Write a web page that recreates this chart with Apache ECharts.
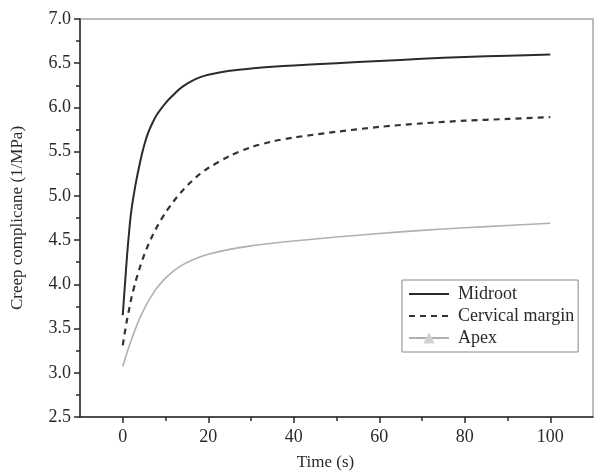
<!DOCTYPE html>
<html>
<head>
<meta charset="utf-8">
<script src="https://cdn.jsdelivr.net/npm/echarts@6/dist/echarts.min.js"></script>
<style>
  html, body { margin: 0; padding: 0; background: #fff; }
  #chart { width: 595px; height: 474px; }
</style>
</head>
<body>
<div id="chart"></div>
<script>
// Creep compliance curves (1/MPa) against time (s) for three root regions
const timeSeconds   = [0, 0.5, 1, 1.5, 2, 3, 4, 5, 6, 7, 8, 10, 12, 14, 16, 18, 20, 25, 30, 35, 40, 50, 60, 70, 80, 90, 100];
const valueMidroot  = [3.65, 3.99, 4.32, 4.60, 4.83, 5.13, 5.37, 5.57, 5.72, 5.83, 5.92, 6.05, 6.15, 6.235, 6.295, 6.34, 6.37, 6.415, 6.44, 6.46, 6.475, 6.50, 6.525, 6.55, 6.57, 6.585, 6.60];
const valueCervical = [3.31, 3.46, 3.60, 3.72, 3.84, 4.03, 4.19, 4.33, 4.45, 4.555, 4.65, 4.81, 4.945, 5.06, 5.16, 5.245, 5.315, 5.45, 5.55, 5.615, 5.66, 5.725, 5.78, 5.82, 5.85, 5.87, 5.89];
const valueApex     = [3.07, 3.15, 3.23, 3.30, 3.37, 3.50, 3.62, 3.72, 3.81, 3.89, 3.96, 4.07, 4.155, 4.22, 4.27, 4.31, 4.34, 4.395, 4.435, 4.465, 4.49, 4.535, 4.575, 4.61, 4.64, 4.665, 4.69];

const xMajorTicks = [0, 20, 40, 60, 80, 100];
const xMinorTicks = [10, 30, 50, 70, 90];

const pairs = (xs, ys) => xs.map((x, i) => [x, ys[i]]);

const FONT = 'Liberation Serif';
const INK = '#2a2a2a';

const chart = echarts.init(document.getElementById('chart'), null, { renderer: 'canvas' });

chart.setOption({
  animation: false,
  backgroundColor: '#ffffff',
  textStyle: { fontFamily: FONT, color: INK },
  grid: {
    left: 80, top: 19, right: 2, bottom: 57,
    outerBoundsMode: 'none',
    containLabel: false,
    show: true, borderColor: '#a8a8a8', borderWidth: 1.5, backgroundColor: 'transparent'
  },
  legend: {
    orient: 'vertical',
    left: 402, top: 280,
    padding: [5, 4, 5, 6],
    itemGap: 4,
    itemWidth: 40,
    itemHeight: 14,
    borderColor: '#888',
    borderWidth: 1,
    textStyle: { fontFamily: FONT, fontSize: 18, color: INK, padding: [0, 0, 0, 4] },
    data: [
      { name: 'Midroot', itemStyle: { opacity: 0 } },
      { name: 'Cervical margin', itemStyle: { opacity: 0 } },
      { name: 'Apex' }
    ]
  },
  xAxis: [
    {
      type: 'value', min: -10, max: 110,
      name: 'Time (s)', nameLocation: 'middle', nameGap: 37,
      nameTextStyle: { fontFamily: FONT, fontSize: 17, color: INK, padding: [0, 22, 0, 0] },
      axisLine: { show: true, onZero: false, lineStyle: { color: INK, width: 1.5 } },
      axisTick: { show: true, length: 6, customValues: xMajorTicks, lineStyle: { color: INK, width: 1.5 } },
      axisLabel: { customValues: xMajorTicks, margin: 11, fontFamily: FONT, fontSize: 18, color: INK },
      splitLine: { show: false }
    },
    {
      type: 'value', min: -10, max: 110, position: 'bottom',
      axisLine: { show: false },
      axisTick: { show: true, length: 4, customValues: xMinorTicks, lineStyle: { color: INK, width: 1.5 } },
      axisLabel: { show: false },
      splitLine: { show: false }
    }
  ],
  yAxis: {
    type: 'value', min: 2.5, max: 7.0, interval: 0.5,
    name: 'Creep complicane (1/MPa)', nameLocation: 'middle', nameGap: 54, nameRotate: 90,
    nameTextStyle: { fontFamily: FONT, fontSize: 17, color: INK },
    axisLine: { show: true, onZero: false, lineStyle: { color: INK, width: 1.5 } },
    axisTick: { show: true, length: 6, lineStyle: { color: INK, width: 1.5 } },
    minorTick: { show: true, splitNumber: 2, length: 4, lineStyle: { color: INK, width: 1.5 } },
    axisLabel: { margin: 9, fontFamily: FONT, fontSize: 18, color: INK, formatter: v => v.toFixed(1) },
    splitLine: { show: false }
  },
  series: [
    {
      name: 'Midroot', type: 'line', xAxisIndex: 0, smooth: 0.3, symbol: 'none',
      data: pairs(timeSeconds, valueMidroot),
      lineStyle: { color: '#2b2b2b', width: 2 },
      itemStyle: { color: '#2b2b2b' }
    },
    {
      name: 'Cervical margin', type: 'line', xAxisIndex: 0, smooth: 0.3, symbol: 'none',
      data: pairs(timeSeconds, valueCervical),
      lineStyle: { color: '#333333', width: 2.2, type: [6, 5] },
      itemStyle: { color: '#333333' }
    },
    {
      name: 'Apex', type: 'line', xAxisIndex: 0, smooth: 0.3,
      symbol: 'triangle', symbolSize: 4, showSymbol: false,
      data: pairs(timeSeconds, valueApex),
      lineStyle: { color: '#b0b0b0', width: 1.6 },
      itemStyle: { color: '#d0d0d0' }
    }
  ]
});
</script>
</body>
</html>
